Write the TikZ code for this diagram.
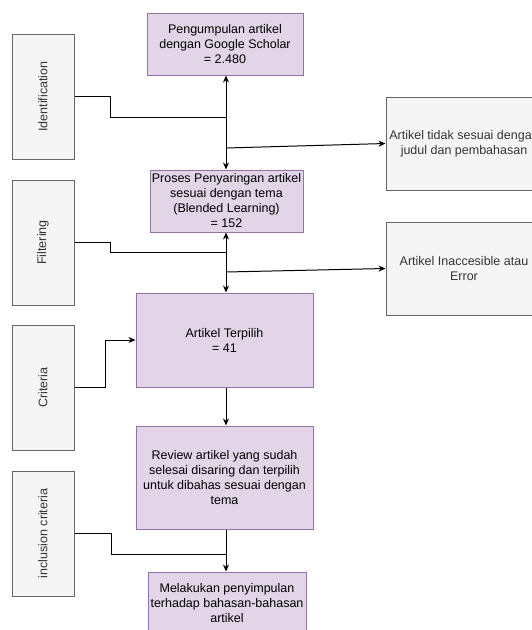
\documentclass[tikz,border=0pt]{standalone}
\usepackage{fontspec}
\setmainfont{Liberation Sans}
\usetikzlibrary{arrows.meta}

\definecolor{stepfill}{HTML}{E1D5E7}
\definecolor{stepdraw}{HTML}{9673A6}
\definecolor{phasefill}{HTML}{F5F5F5}
\definecolor{phasedraw}{HTML}{666666}
\definecolor{phasetext}{HTML}{333333}

\begin{document}
\begin{tikzpicture}[x=1pt,y=-1pt,
  stepbox/.style={draw=stepdraw,fill=stepfill,line width=1pt,align=center,inner sep=0pt,font=\fontsize{12.5}{15}\selectfont},
  phasebox/.style={draw=phasedraw,fill=phasefill,text=phasetext,line width=1pt,rotate=90,minimum width=125pt,minimum height=62pt,inner sep=0pt,font=\fontsize{12.5}{15}\selectfont},
  outbox/.style={draw=phasedraw,fill=phasefill,text=phasetext,line width=1pt,minimum width=156pt,minimum height=93pt,align=center,inner sep=0pt,font=\fontsize{12.5}{15}\selectfont},
  link/.style={line width=1pt},
  flow/.style={link,-{Stealth[length=7pt,width=6pt]}}]
\clip (0,0) rectangle (532,630);
\fill[white] (0,0) rectangle (532,630);

\node[stepbox,minimum width=156pt,minimum height=62pt] (collect) at (225,44) {Pengumpulan artikel\\dengan Google Scholar\\= 2.480};
\node[stepbox,minimum width=153pt,minimum height=62pt] (screen) at (226.5,201) {Proses Penyaringan artikel\\sesuai dengan tema\\(Blended Learning)\\= 152};
\node[stepbox,minimum width=177pt,minimum height=94pt] (chosen) at (224.5,340) {Artikel Terpilih\\= 41};
\node[stepbox,minimum width=177pt,minimum height=103pt] (review) at (224.5,477.5) {Review artikel yang sudah\\selesai disaring dan terpilih\\untuk dibahas sesuai dengan\\tema};
\node[stepbox,minimum width=158pt,minimum height=62pt] (conclude) at (227,603) {Melakukan penyimpulan\\terhadap bahasan-bahasan\\artikel};

\node[phasebox] (ident) at (43,96.5) {Identification};
\node[phasebox] (filt) at (43,242.5) {Filtering};
\node[phasebox] (crit) at (43,387.5) {Criteria};
\node[phasebox] (incl) at (43,533.5) {inclusion criteria};

\node[outbox] (mismatch) at (464,143.5) {Artikel tidak sesuai dengan\\judul dan pembahasan};
\node[outbox] (noaccess) at (464,268.5) {Artikel Inaccesible atau\\Error};

\coordinate (j1) at (226,117);
\coordinate (j2) at (226,252);
\coordinate (j4) at (226,554);
\coordinate (r1) at (226,148);
\coordinate (r2) at (226,272);

\draw[link] (ident.south) -- ++(36,0) |- (j1);
\draw[flow] (j1) -- (j1 |- collect.south);
\draw[flow] (j1) -- (j1 |- screen.north);
\draw[flow] (r1) -- (mismatch.west);
\draw[link] (filt.south) -- ++(36,0) |- (j2);
\draw[flow] (j2) -- (j2 |- screen.south);
\draw[flow] (j2) -- (j2 |- chosen.north);
\draw[flow] (r2) -- (noaccess.west);
\draw[flow] (crit.south) -- ++(31,0) |- (chosen.west);
\draw[flow] (chosen.south -| j2) -- (review.north -| j2);
\draw[link] (incl.south) -- ++(37,0) |- (j4);
\draw[flow] (review.south -| j4) -- (conclude.north -| j4);
\end{tikzpicture}
\end{document}
